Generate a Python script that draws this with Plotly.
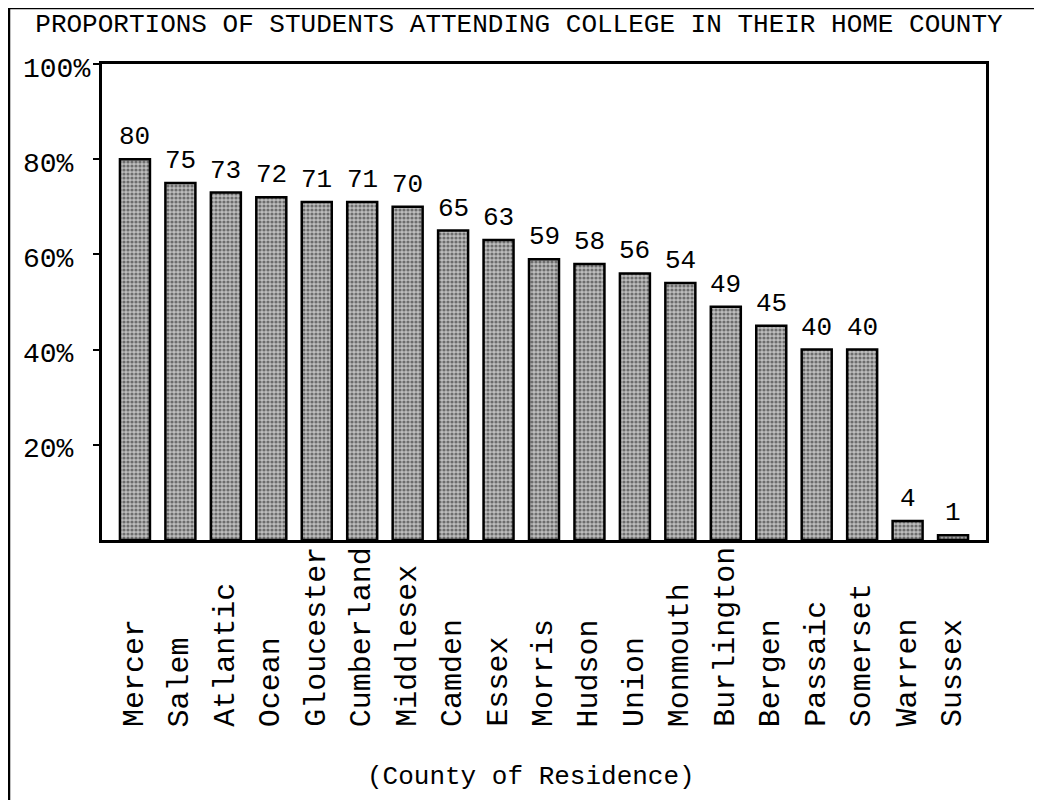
import plotly.graph_objects as go

counties = ["Mercer", "Salem", "Atlantic", "Ocean", "Gloucester", "Cumberland",
            "Middlesex", "Camden", "Essex", "Morris", "Hudson", "Union",
            "Monmouth", "Burlington", "Bergen", "Passaic", "Somerset", "Warren", "Sussex"]
percent = [80, 75, 73, 72, 71, 71, 70, 65, 63, 59, 58, 56, 54, 49, 45, 40, 40, 4, 1]
ytick_vals = [20, 40, 60, 80, 100]
ytick_text = ["20%", "40%", "60%", "80%", "100%"]

title_text = "PROPORTIONS OF STUDENTS ATTENDING COLLEGE IN THEIR HOME COUNTY"
xaxis_title = "(County of Residence)"

FONT = "Liberation Mono, Courier New, monospace"
OFF = 6  # page offset of the figure
W, H = 1042 - OFF, 800 - OFF
L, R, T, B = 100 - OFF, 984 - OFF, 62 - OFF, 538 - OFF

def px_x(p):
    return (p - OFF - L) / (R - L)

def px_y(p):
    return (B - (p - OFF)) / (B - T)

fig = go.Figure()
fig.add_trace(go.Bar(
    x=list(range(len(counties))),
    y=percent,
    width=0.66,
    marker=dict(
        color="#b0b0b0",
        line=dict(color="black", width=2.5),
        pattern=dict(shape=".", bgcolor="#bdbdbd", fgcolor="#1e1e1e", size=4, solidity=0.5),
    ),
    hoverinfo="skip",
    showlegend=False,
))

annotations = []
# value labels
for i, v in enumerate(percent):
    annotations.append(dict(x=i, y=v, xref="x", yref="y", text=str(v), showarrow=False,
                            yanchor="bottom", yshift=5,
                            font=dict(family=FONT, size=26, color="black")))
# category labels (rotated, aligned at their start)
for i, c in enumerate(counties):
    annotations.append(dict(x=i, y=px_y(727), xref="x", yref="paper", text=c, showarrow=False,
                            textangle=-90, yanchor="bottom", xanchor="center",
                            font=dict(family=FONT, size=30, color="black")))
# y tick labels, left aligned
for v, t in zip(ytick_vals, ytick_text):
    annotations.append(dict(x=px_x(19), y=v, xref="paper", yref="y", text=t, showarrow=False,
                            xanchor="left", yanchor="middle", yshift=-5,
                            font=dict(family=FONT, size=28, color="black")))
# axis title
annotations.append(dict(x=px_x(529), y=px_y(775), xref="paper", yref="paper", text=xaxis_title,
                        showarrow=False, xanchor="center", yanchor="middle",
                        font=dict(family=FONT, size=26, color="black")))

shapes = [
    dict(type="line", xref="paper", yref="paper", x0=px_x(7), x1=px_x(7), y0=px_y(6), y1=px_y(800),
         line=dict(color="black", width=2.5)),
    dict(type="line", xref="paper", yref="paper", x0=px_x(7), x1=px_x(1042), y0=px_y(6), y1=px_y(6),
         line=dict(color="black", width=2.5)),
]

fig.update_layout(
    width=W, height=H,
    margin=dict(l=L, r=W - R, t=T, b=H - B, pad=0),
    paper_bgcolor="white", plot_bgcolor="white",
    title=dict(text=title_text, x=(517 - OFF) / W, xanchor="center", y=1 - (21 - OFF) / H,
               yanchor="middle", font=dict(family=FONT, size=26, color="black")),
    xaxis=dict(range=[-0.725, 18.725], showticklabels=False, ticks="", showgrid=False,
               zeroline=False, showline=True, mirror=True, linecolor="black", linewidth=2.5,
               fixedrange=True),
    yaxis=dict(range=[0, 100], tickvals=ytick_vals, showticklabels=False, ticks="outside",
               ticklen=6, tickcolor="black", tickwidth=2, showgrid=False, zeroline=False,
               showline=True, mirror=True, linecolor="black", linewidth=2.5, fixedrange=True),
    annotations=annotations,
    shapes=shapes,
    bargap=0.34,
)

fig.write_html("out.html")
